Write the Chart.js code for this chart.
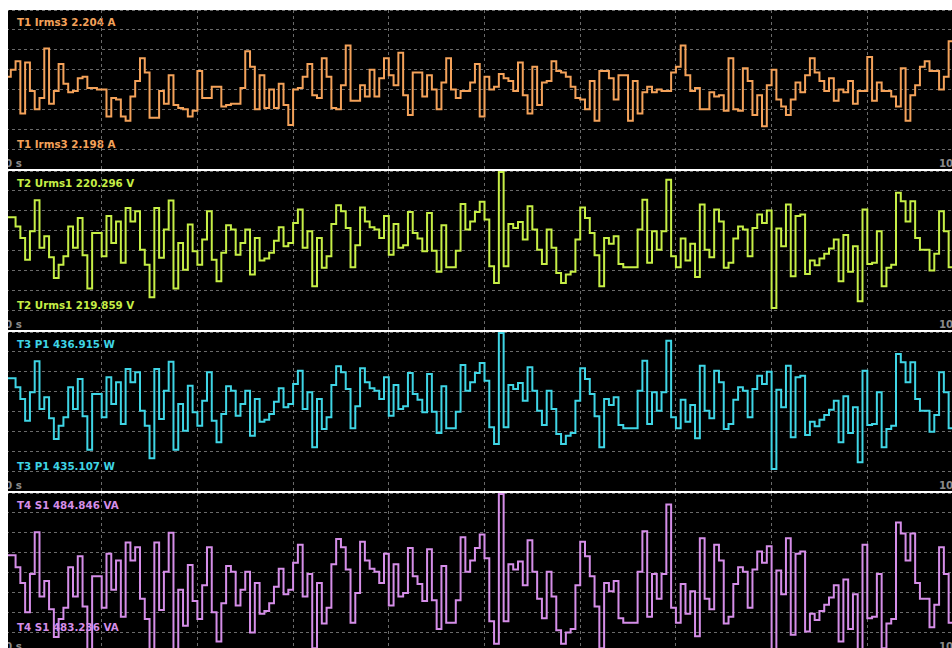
<!DOCTYPE html>
<html>
<head>
<meta charset="utf-8">
<script src="https://cdn.jsdelivr.net/npm/chart.js@4.4.1/dist/chart.umd.min.js"></script>
<style>
    html, body { margin: 0; background: #fff; overflow: hidden; width: 952px; height: 648px; }
    #scope { position: absolute; left: 8px; top: 10px; width: 944px; height: 638px; overflow: hidden; }
    .panel { position: absolute; left: 0; width: 944px; height: 159px; background: #000; border-bottom: 2px solid #fff; overflow: hidden; }
    .panel canvas { position: absolute; left: -2px; top: 0; z-index: 2; }
    .lbl { position: absolute; left: 9px; font: bold 10.3px "DejaVu Sans", sans-serif; line-height: 12px; white-space: nowrap; z-index: 1; }
    .time { color: #8a8a8a; }
</style>
</head>
<body>
<div id="scope"></div>
<script>
// 200 samples, 50 ms each, 10 s window
const SAMPLE_PERIOD = 0.05;
const DURATION = 10;
const timeLabels = ["0 s", "10 s"];

const irms3 = [
    2.2015, 2.2020, 2.2026, 2.1989, 2.2025, 2.2005, 2.1992, 2.2000, 2.2035, 2.1996,
    2.2005, 2.2024, 2.2010, 2.2004, 2.2005, 2.2014, 2.2015, 2.2007, 2.2007, 2.2006,
    2.2006, 2.1987, 2.2000, 2.1999, 2.1987, 2.1984, 2.2001, 2.2012, 2.2028, 2.2018,
    2.1986, 2.1986, 2.2005, 2.1996, 2.2016, 2.1995, 2.1993, 2.1992, 2.1987, 2.1991,
    2.2019, 2.2000, 2.2000, 2.2008, 2.2008, 2.1994, 2.1995, 2.1996, 2.1996, 2.2007,
    2.2033, 2.2022, 2.1992, 2.2016, 2.1993, 2.2006, 2.1993, 2.2010, 2.1995, 2.1981,
    2.2006, 2.2007, 2.2015, 2.2024, 2.2002, 2.2000, 2.2028, 2.2015, 2.1993, 2.1992,
    2.2009, 2.2037, 2.1998, 2.1998, 2.2009, 2.2001, 2.2020, 2.2001, 2.2014, 2.2028,
    2.2016, 2.2009, 2.2032, 2.2002, 2.1988, 2.2018, 2.2018, 2.2001, 2.2016, 2.2006,
    2.1992, 2.2011, 2.2028, 2.2006, 2.2000, 2.2005, 2.2005, 2.2011, 2.2024, 2.1987,
    2.2015, 2.2006, 2.2008, 2.2017, 2.2014, 2.2012, 2.2005, 2.2025, 2.2002, 2.1989,
    2.2022, 2.1995, 2.2011, 2.2012, 2.2026, 2.2019, 2.2018, 2.2015, 2.2008, 2.2000,
    2.1999, 2.1992, 2.2012, 2.1984, 2.2019, 2.2019, 2.2014, 2.1999, 2.2016, 2.2016,
    2.1984, 2.2012, 2.1989, 2.2004, 2.2008, 2.2004, 2.2006, 2.2005, 2.2005, 2.2018,
    2.2022, 2.2037, 2.2016, 2.2005, 2.2007, 2.1992, 2.1992, 2.2004, 2.2001, 2.2002,
    2.1991, 2.2028, 2.1992, 2.1991, 2.2021, 2.2012, 2.1988, 2.2002, 2.1980, 2.2009,
    2.2020, 2.1999, 2.1994, 2.1988, 2.1999, 2.2011, 2.2004, 2.2016, 2.2028, 2.2018,
    2.2012, 2.2005, 2.2014, 2.1998, 2.2006, 2.2004, 2.2012, 2.1996, 2.2005, 2.2005,
    2.2029, 2.1998, 2.2011, 2.2005, 2.2005, 2.2001, 2.1994, 2.2021, 2.1984, 2.2002,
    2.2009, 2.2022, 2.2026, 2.2019, 2.2019, 2.2006, 2.2015, 2.2040, 2.2040, 2.2014,
];

const urms1 = [
    220.150, 220.150, 220.121, 220.084, 220.014, 220.105, 220.205, 220.052, 220.089, 220.022,
    219.955, 219.998, 220.025, 220.121, 220.052, 220.148, 220.028, 219.921, 220.100, 220.100,
    220.025, 220.154, 220.068, 220.137, 220.004, 220.180, 220.137, 220.170, 220.046, 219.998,
    219.893, 220.180, 220.020, 220.111, 220.204, 219.921, 220.068, 219.982, 220.127, 220.041,
    219.998, 220.079, 220.170, 220.014, 219.945, 220.036, 220.125, 220.111, 220.030, 220.068,
    220.111, 219.966, 220.084, 220.011, 220.018, 220.036, 220.075, 220.118, 220.057, 220.068,
    220.132, 220.175, 220.052, 220.105, 219.929, 220.084, 219.988, 220.025, 220.129, 220.189,
    220.170, 220.116, 219.990, 220.060, 220.182, 220.137, 220.118, 220.111, 220.084, 220.154,
    220.030, 220.129, 220.052, 220.060, 220.167, 220.100, 220.082, 220.041, 220.164, 220.043,
    219.975, 220.125, 219.990, 219.990, 220.043, 220.193, 220.111, 220.137, 220.167, 220.200,
    220.143, 219.993, 219.939, 220.296, 219.993, 220.129, 220.116, 220.135, 220.079, 220.186,
    220.111, 220.046, 220.000, 220.111, 220.052, 219.971, 219.939, 219.966, 219.975, 220.079,
    220.182, 220.148, 220.100, 220.028, 219.929, 220.084, 220.065, 220.089, 220.000, 219.990,
    219.990, 219.990, 220.111, 220.207, 220.004, 220.105, 220.046, 220.105, 220.271, 220.025,
    219.990, 220.082, 220.011, 220.065, 219.958, 220.191, 220.046, 220.022, 220.175, 220.137,
    219.988, 220.004, 220.082, 220.121, 220.111, 220.025, 220.116, 220.159, 220.132, 220.172,
    219.859, 220.114, 220.057, 220.191, 219.961, 220.154, 220.159, 219.968, 220.011, 219.996,
    220.018, 220.033, 220.050, 220.079, 219.945, 220.093, 219.975, 220.057, 219.880, 220.175,
    220.000, 220.004, 220.105, 219.929, 219.988, 219.998, 220.229, 220.202, 220.137, 220.202,
    220.084, 220.046, 220.046, 219.979, 220.033, 220.170, 220.105, 219.990, 219.990, 220.052,
];

const p1 = [
    436.312, 436.312, 436.193, 436.038, 435.750, 436.126, 436.538, 435.905, 436.060, 435.781,
    435.506, 435.683, 435.794, 436.193, 435.905, 436.303, 435.807, 435.364, 436.104, 436.104,
    435.794, 436.326, 435.971, 436.259, 435.705, 436.436, 436.259, 436.392, 435.883, 435.683,
    435.249, 436.436, 435.772, 436.148, 436.534, 435.364, 435.971, 435.617, 436.215, 435.860,
    435.683, 436.015, 436.392, 435.750, 435.462, 435.838, 436.206, 436.148, 435.816, 435.971,
    436.148, 435.550, 436.038, 435.736, 435.763, 435.838, 436.002, 436.179, 435.927, 435.971,
    436.237, 436.414, 435.905, 436.126, 435.395, 436.038, 435.639, 435.794, 436.224, 436.472,
    436.392, 436.171, 435.648, 435.940, 436.445, 436.259, 436.179, 436.148, 436.038, 436.326,
    435.816, 436.224, 435.905, 435.940, 436.383, 436.104, 436.029, 435.860, 436.370, 435.869,
    435.586, 436.206, 435.648, 435.648, 435.869, 436.490, 436.148, 436.259, 436.383, 436.516,
    436.281, 435.661, 435.439, 436.915, 435.661, 436.224, 436.171, 436.250, 436.015, 436.459,
    436.148, 435.883, 435.692, 436.148, 435.905, 435.572, 435.439, 435.550, 435.586, 436.015,
    436.445, 436.303, 436.104, 435.807, 435.395, 436.038, 435.958, 436.060, 435.692, 435.648,
    435.648, 435.648, 436.148, 436.547, 435.705, 436.126, 435.883, 436.126, 436.813, 435.794,
    435.648, 436.029, 435.736, 435.958, 435.515, 436.481, 435.883, 435.781, 436.414, 436.259,
    435.639, 435.705, 436.029, 436.193, 436.148, 435.794, 436.171, 436.348, 436.237, 436.401,
    435.107, 436.162, 435.927, 436.481, 435.528, 436.326, 436.348, 435.559, 435.736, 435.674,
    435.763, 435.825, 435.896, 436.015, 435.462, 436.073, 435.586, 435.927, 435.196, 436.414,
    435.692, 435.705, 436.126, 435.395, 435.639, 435.683, 436.636, 436.525, 436.259, 436.525,
    436.038, 435.883, 435.883, 435.603, 435.825, 436.392, 436.126, 435.648, 435.648, 435.905,
];

const s1 = [
    484.309, 484.309, 484.203, 484.065, 483.808, 484.144, 484.511, 483.946, 484.084, 483.836,
    483.591, 483.749, 483.848, 484.203, 483.946, 484.301, 483.860, 483.465, 484.124, 484.124,
    483.848, 484.321, 484.006, 484.262, 483.769, 484.420, 484.262, 484.380, 483.927, 483.749,
    483.362, 484.420, 483.828, 484.163, 484.507, 483.465, 484.006, 483.690, 484.223, 483.907,
    483.749, 484.045, 484.380, 483.808, 483.552, 483.887, 484.215, 484.163, 483.867, 484.006,
    484.163, 483.631, 484.065, 483.796, 483.820, 483.887, 484.033, 484.191, 483.966, 484.006,
    484.242, 484.400, 483.946, 484.144, 483.492, 484.065, 483.710, 483.848, 484.230, 484.451,
    484.380, 484.183, 483.717, 483.978, 484.428, 484.262, 484.191, 484.163, 484.065, 484.321,
    483.867, 484.230, 483.946, 483.978, 484.373, 484.124, 484.057, 483.907, 484.361, 483.915,
    483.662, 484.215, 483.717, 483.717, 483.915, 484.467, 484.163, 484.262, 484.373, 484.491,
    484.282, 483.729, 483.532, 484.846, 483.729, 484.230, 484.183, 484.254, 484.045, 484.440,
    484.163, 483.927, 483.757, 484.163, 483.946, 483.650, 483.532, 483.631, 483.662, 484.045,
    484.428, 484.301, 484.124, 483.860, 483.492, 484.065, 483.994, 484.084, 483.757, 483.717,
    483.717, 483.717, 484.163, 484.519, 483.769, 484.144, 483.927, 484.144, 484.755, 483.848,
    483.717, 484.057, 483.796, 483.994, 483.599, 484.459, 483.927, 483.836, 484.400, 484.262,
    483.710, 483.769, 484.057, 484.203, 484.163, 483.848, 484.183, 484.341, 484.242, 484.388,
    483.236, 484.175, 483.966, 484.459, 483.611, 484.321, 484.341, 483.639, 483.796, 483.741,
    483.820, 483.875, 483.938, 484.045, 483.552, 484.096, 483.662, 483.966, 483.315, 484.400,
    483.757, 483.769, 484.144, 483.492, 483.710, 483.749, 484.597, 484.499, 484.262, 484.499,
    484.065, 483.927, 483.927, 483.678, 483.875, 484.380, 484.144, 483.717, 483.717, 483.946,
];

// one entry per scope trace (T1..T4)
const traces = [
    { name: "T1 Irms3", unit: "A", values: irms3, color: "#f4a25a", yMin: 2.19499, yMax: 2.20621 },
    { name: "T2 Urms1", unit: "V", values: urms1, color: "#c6ee46", yMin: 219.788, yMax: 220.299 },
    { name: "T3 P1", unit: "W", values: p1, color: "#3fd5e5", yMin: 434.815, yMax: 436.928 },
    { name: "T4 S1", unit: "VA", values: s1, color: "#d58ee8", yMin: 483.46, yMax: 484.855 },
];

const GRID_COLOR = "#6a6a6a";
const scope = document.getElementById("scope");

function addLabel(panel, text, top, color, cls) {
    const el = document.createElement("div");
    el.className = "lbl" + (cls ? " " + cls : "");
    el.textContent = text;
    el.style.top = top + "px";
    el.style.color = color;
    panel.appendChild(el);
    return el;
}

traces.forEach((tr, k) => {
    const panel = document.createElement("div");
    panel.className = "panel";
    panel.style.top = k * 161 + "px";
    scope.appendChild(panel);

    const hi = Math.max(...tr.values);
    const lo = Math.min(...tr.values);
    addLabel(panel, `${tr.name} ${hi.toFixed(3)} ${tr.unit}`, 6, tr.color);
    addLabel(panel, `${tr.name} ${lo.toFixed(3)} ${tr.unit}`, 128, tr.color);
    const t0 = addLabel(panel, timeLabels[0], 147, null, "time");
    t0.style.left = "-3px";
    const t1 = addLabel(panel, timeLabels[1], 147, null, "time");
    t1.style.left = "955px";
    t1.style.transform = "translateX(-100%)";

    const canvas = document.createElement("canvas");
    canvas.width = 957;
    canvas.height = 159;
    panel.appendChild(canvas);

    const points = tr.values.map((v, i) => ({ x: i * SAMPLE_PERIOD, y: v }));
    points.push({ x: DURATION, y: tr.values[tr.values.length - 1] });

    new Chart(canvas, {
        type: "line",
        data: {
            datasets: [
                {
                    data: points,
                    borderColor: tr.color,
                    borderWidth: 2,
                    stepped: true,
                    pointRadius: 0,
                    fill: false,
                },
            ],
        },
        options: {
            responsive: false,
            animation: false,
            events: [],
            layout: { padding: 0 },
            plugins: {
                legend: { display: false },
                tooltip: { enabled: false },
            },
            scales: {
                x: {
                    type: "linear",
                    min: 0,
                    max: DURATION,
                    ticks: { display: false, stepSize: 1 },
                    grid: { color: GRID_COLOR, lineWidth: 1, drawTicks: false },
                    border: { display: false, dash: [3, 3] },
                    afterFit: (axis) => { axis.height = 0; },
                },
                y: {
                    min: tr.yMin,
                    max: tr.yMax,
                    ticks: { display: false },
                    grid: { color: GRID_COLOR, lineWidth: 1, drawTicks: false },
                    border: { display: false, dash: [3, 3] },
                    afterBuildTicks: (axis) => {
                        const step = (axis.max - axis.min) / 8;
                        axis.ticks = [...Array(9).keys()].map((n) => ({ value: axis.min + n * step }));
                    },
                    afterFit: (axis) => { axis.width = 0; },
                },
            },
        },
    });
});
</script>
</body>
</html>
